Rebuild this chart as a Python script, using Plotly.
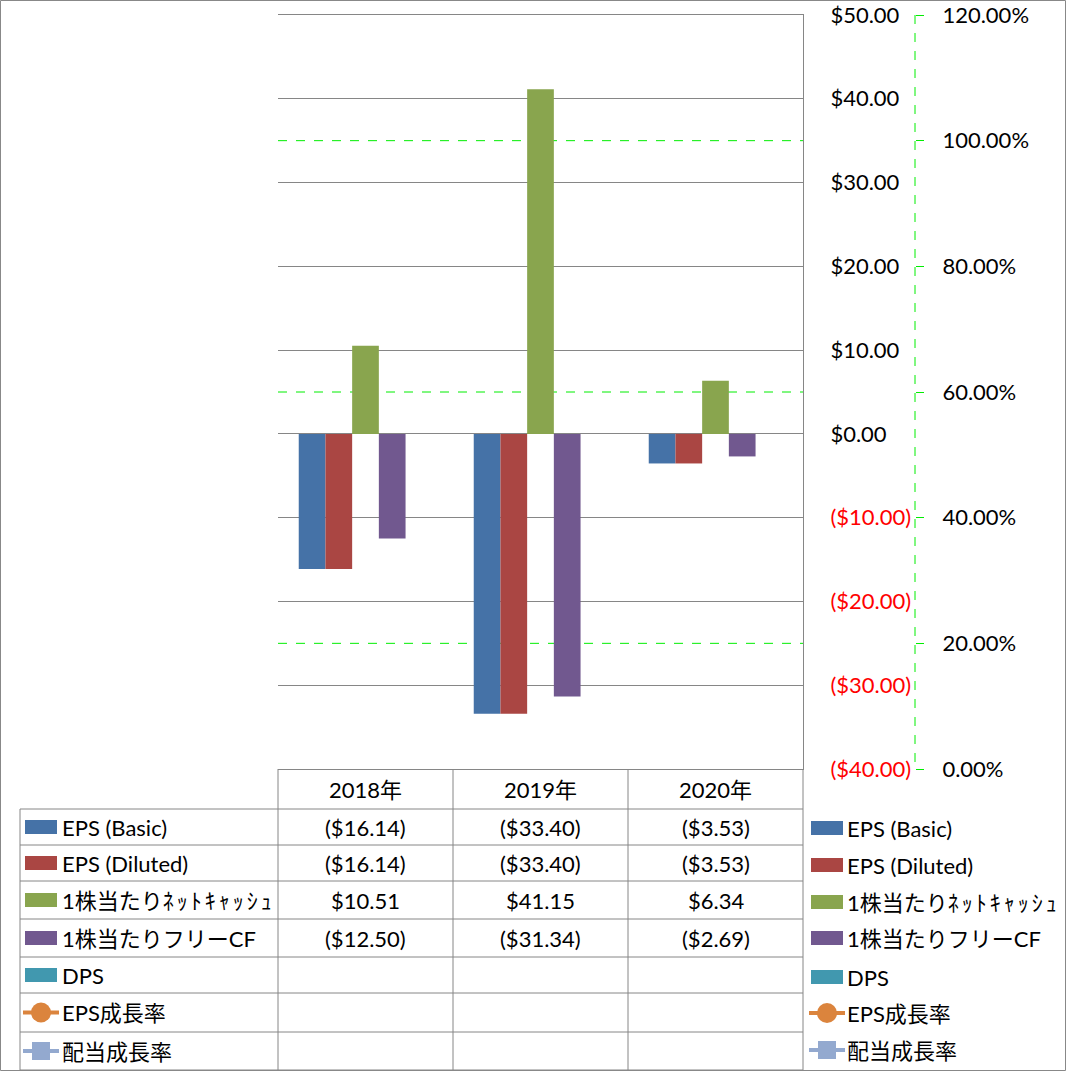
import re
import plotly.graph_objects as go

W, H = 1066, 1071

years = ["2018年", "2019年", "2020年"]
eps_basic = [-16.14, -33.40, -3.53]
eps_diluted = [-16.14, -33.40, -3.53]
net_cash_ps = [10.51, 41.15, 6.34]
fcf_ps = [-12.50, -31.34, -2.69]
dps = [None, None, None]
eps_growth = [None, None, None]
div_growth = [None, None, None]

bar_names = ["EPS (Basic)", "EPS (Diluted)", "1株当たりﾈｯﾄｷｬｯｼｭ", "1株当たりフリーCF", "DPS"]
line_names = ["EPS成長率", "配当成長率"]
bar_colors = ["#4572A7", "#AA4643", "#89A54E", "#71588F", "#4198AF"]
line_colors = ["#DB843D", "#93A9CF"]

y1_ticks = [-40, -30, -20, -10, 0, 10, 20, 30, 40, 50]
y2_ticks = [0, 0.2, 0.4, 0.6, 0.8, 1.0, 1.2]
Y1_RANGE = [-40, 50]
Y2_RANGE = [0, 1.2]

FONT = "Lato, 'Noto Sans CJK JP', sans-serif"
FS = 22
GRID = "#868686"
LIME = "#00EE00"


def px(x):
    return x / W


def py(y):
    return 1 - y / H


def money(v):
    if v is None:
        return ""
    return f"${v:,.2f}" if v >= 0 else f"(${-v:,.2f})"


def money_tick(v):
    s = money(v)
    return f"<span style='color:#FF0000'>{s}</span>" if v < 0 else s


def label(s):
    return re.sub(r"([\uFF61-\uFF9F]+)",
                  lambda m: f"<span style='letter-spacing:3px'>{m.group(1)}</span>", s)


fig = go.Figure()
bar_series = [eps_basic, eps_diluted, net_cash_ps, fcf_ps, dps]
for name, vals, col in zip(bar_names, bar_series, bar_colors):
    fig.add_trace(go.Bar(x=years, y=vals, name=name, marker_color=col,
                         marker_line_width=0, showlegend=False))
for name, vals, col in zip(line_names, [eps_growth, div_growth], line_colors):
    fig.add_trace(go.Scatter(x=years, y=vals, name=name, yaxis="y2",
                             mode="lines+markers", line=dict(color=col),
                             showlegend=False))

shapes = []
annotations = []

# secondary-axis gridlines (hidden where a primary gridline sits on top)
for t in y2_ticks:
    v1 = Y1_RANGE[0] + (t - Y2_RANGE[0]) / (Y2_RANGE[1] - Y2_RANGE[0]) * (Y1_RANGE[1] - Y1_RANGE[0])
    if t == Y2_RANGE[0] or any(abs(v1 - k) < 1e-6 for k in y1_ticks):
        continue
    shapes.append(dict(type="line", xref="x domain", yref="y2", x0=0, x1=1, y0=t, y1=t,
                       layer="below", line=dict(color=LIME, width=1, dash="dash")))

# secondary axis dashed line
shapes.append(dict(type="line", xref="paper", yref="paper", x0=px(915), x1=px(915),
                   y0=py(15), y1=py(769), line=dict(color=LIME, width=1, dash="dash")))

# table grid
col_x = [278, 453, 628, 803]
row_y = [809, 845, 881, 919, 957, 993, 1032, 1070]
for yy in row_y:
    shapes.append(dict(type="line", xref="paper", yref="paper", x0=px(20), x1=px(803),
                       y0=py(yy), y1=py(yy), line=dict(color=GRID, width=1)))
shapes.append(dict(type="line", xref="paper", yref="paper", x0=px(20), x1=px(20),
                   y0=py(809), y1=py(1070), line=dict(color=GRID, width=1)))
for xx in col_x:
    shapes.append(dict(type="line", xref="paper", yref="paper", x0=px(xx), x1=px(xx),
                       y0=py(769), y1=py(1070), line=dict(color=GRID, width=1)))

# outer border
shapes.append(dict(type="rect", xref="paper", yref="paper", x0=px(0.5), x1=px(1065.5),
                   y0=py(0.5), y1=py(1070.5), line=dict(color="#888888", width=1)))

# header text
centers = [(col_x[i] + col_x[i + 1]) / 2 for i in range(3)]
for cx, yr in zip(centers, years):
    annotations.append(dict(x=px(cx), y=py(789), xref="paper", yref="paper", text=yr,
                            showarrow=False, xanchor="center", yanchor="middle",
                            font=dict(size=FS, color="#000000")))

row_centers = [(row_y[i] + row_y[i + 1]) / 2 for i in range(7)]
all_series = bar_series + [eps_growth, div_growth]
all_names = bar_names + line_names
all_colors = bar_colors + line_colors
legend_rows = [828, 865, 902, 938, 977, 1013, 1050]


def legend_key(x0, yc, idx):
    col = all_colors[idx]
    if idx < 5:
        shapes.append(dict(type="rect", xref="paper", yref="paper", x0=px(x0), x1=px(x0 + 32),
                           y0=py(yc - 7), y1=py(yc + 7), fillcolor=col, line=dict(width=0)))
    else:
        shapes.append(dict(type="line", xref="paper", yref="paper", x0=px(x0 - 2), x1=px(x0 + 34),
                           y0=py(yc), y1=py(yc), line=dict(color=col, width=4)))
        if idx == 5:
            shapes.append(dict(type="circle", xref="paper", yref="paper", x0=px(x0 + 6), x1=px(x0 + 26),
                               y0=py(yc - 10), y1=py(yc + 10), fillcolor=col, line=dict(width=0)))
        else:
            shapes.append(dict(type="rect", xref="paper", yref="paper", x0=px(x0 + 7), x1=px(x0 + 25),
                               y0=py(yc - 9), y1=py(yc + 9), fillcolor=col, line=dict(width=0)))


for i in range(7):
    rc = row_centers[i]
    legend_key(25, rc, i)
    annotations.append(dict(x=px(60), y=py(rc), xref="paper", yref="paper", text=label(all_names[i]),
                            showarrow=False, xanchor="left", yanchor="middle",
                            font=dict(size=FS, color="#000000")))
    for cx, v in zip(centers, all_series[i]):
        annotations.append(dict(x=px(cx), y=py(rc), xref="paper", yref="paper", text=money(v),
                                showarrow=False, xanchor="center", yanchor="middle",
                                font=dict(size=FS, color="#000000")))
    lr = legend_rows[i]
    legend_key(811, lr, i)
    annotations.append(dict(x=px(845), y=py(lr), xref="paper", yref="paper", text=label(all_names[i]),
                            showarrow=False, xanchor="left", yanchor="middle",
                            font=dict(size=FS, color="#000000")))

fig.update_layout(
    template="none",
    width=W, height=H, autosize=False,
    margin=dict(l=0, r=0, t=0, b=0, pad=0, autoexpand=False),
    paper_bgcolor="white", plot_bgcolor="white",
    font=dict(family=FONT, size=FS, color="#000000"),
    barmode="group", bargap=0.237, bargroupgap=0,
    showlegend=False,
    xaxis=dict(domain=[px(278), px(803)], showticklabels=False, showgrid=False,
               zeroline=False, showline=True, mirror=True, linecolor=GRID, linewidth=1,
               ticks="", automargin=False),
    yaxis=dict(domain=[py(769), py(15)], range=Y1_RANGE, side="right", automargin=False,
               tickvals=y1_ticks, ticktext=[money_tick(v) for v in y1_ticks],
               showgrid=True, gridcolor=GRID, gridwidth=1, zeroline=False,
               showline=True, linecolor=GRID, linewidth=1, ticks="",
               ticklabelstandoff=22, tickfont=dict(size=FS)),
    yaxis2=dict(overlaying="y", anchor="free", position=px(915), side="right",
                range=Y2_RANGE, tickvals=y2_ticks, automargin=False,
                ticktext=[f"{v * 100:.2f}%" for v in y2_ticks],
                showgrid=False, zeroline=False, showline=False, ticks="outside", ticklen=8,
                tickcolor=LIME, tickwidth=1, ticklabelstandoff=14, tickfont=dict(size=FS)),
    shapes=shapes,
    annotations=annotations,
)

post = ("document.body.style.margin='0';document.body.style.padding='0';"
        "document.body.style.overflow='hidden';"
        "var g=document.getElementById('{plot_id}');"
        "g.style.position='absolute';g.style.left='0px';g.style.top='0px';")

fig.write_html("out.html", post_script=post,
               config={"responsive": False, "displayModeBar": False})
